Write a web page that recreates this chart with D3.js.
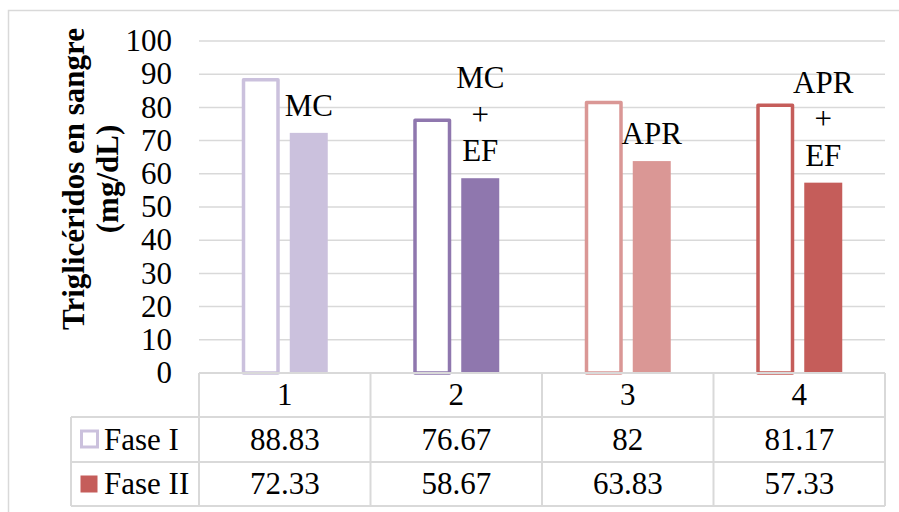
<!DOCTYPE html>
<html><head><meta charset="utf-8">
<script src="https://cdn.jsdelivr.net/npm/d3@7"></script>
<style>
html,body{margin:0;padding:0;background:#fff;}
svg{display:block;}
</style></head>
<body>
<svg id="c" width="899" height="512"></svg>
<script>
const categories = ["1", "2", "3", "4"];
const seriesNames = ["Fase I", "Fase II"];
const faseI = [88.83, 76.67, 82, 81.17];
const faseII = [72.33, 58.67, 63.83, 57.33];
const tableI = ["88.83", "76.67", "82", "81.17"];
const tableII = ["72.33", "58.67", "63.83", "57.33"];
const pointLabels = [["MC"], ["MC", "+", "EF"], ["APR"], ["APR", "+", "EF"]];
const yTicks = [0, 10, 20, 30, 40, 50, 60, 70, 80, 90, 100];
const pointColors = ["#CBC1DD", "#8F77AE", "#DA9795", "#C55D5A"];
const titleLines = ["Triglicéridos en sangre", "(mg/dL)"];

const svg = d3.select("#c");
const FS = 31;
const grid = "#D9D9D9";
const FF = "Liberation Serif";

// outer border
svg.append("rect").attr("x", 8.5).attr("y", 10.5).attr("width", 905).attr("height", 510)
  .attr("fill", "none").attr("stroke", grid).attr("stroke-width", 1.5);

const plotL = 199, plotR = 885, plotT = 41, plotB = 373;
const y = d3.scaleLinear().domain([0, 100]).range([plotB, plotT]);
const x = d3.scaleBand().domain(categories).range([plotL, plotR]);
const sub = d3.scaleBand().domain(seriesNames).range([0, 86]).paddingInner(10 / 48);

// gridlines
svg.append("g").selectAll("line").data(yTicks.filter(d => d > 0)).join("line")
  .attr("x1", plotL).attr("x2", plotR)
  .attr("y1", d => y(d)).attr("y2", d => y(d))
  .attr("stroke", grid).attr("stroke-width", 1.5);

// y tick labels
svg.append("g").selectAll("text").data(yTicks).join("text")
  .style("font-family", FF)
  .attr("x", 172).attr("y", d => y(d)).attr("dy", "0.33em")
  .attr("text-anchor", "end").attr("font-size", FS).text(d => d);

// axis title
const tg = svg.append("g").attr("transform", "translate(0,179) rotate(-90)");
tg.selectAll("text").data(titleLines).join("text")
  .style("font-family", FF)
  .attr("x", 0).attr("y", (d, i) => 84 + i * 34)
  .attr("text-anchor", "middle").attr("font-size", 31).attr("font-weight", "bold")
  .text(d => d);

const bx = (c, s) => x(c) + x.bandwidth() / 2 - 43 + sub(s);

// Fase I outline bars
svg.append("g").selectAll("rect").data(categories).join("rect")
  .attr("x", c => bx(c, "Fase I") + 1.75)
  .attr("width", sub.bandwidth() - 3.5)
  .attr("y", (c, i) => y(faseI[i]) + 1.75)
  .attr("height", (c, i) => plotB - y(faseI[i]) - 1.75)
  .attr("fill", "#fff")
  .attr("stroke", (c, i) => pointColors[i]).attr("stroke-width", 3.5)
  .attr("stroke-linejoin", "round");

// Fase II filled bars
svg.append("g").selectAll("rect").data(categories).join("rect")
  .attr("x", c => bx(c, "Fase II"))
  .attr("width", sub.bandwidth())
  .attr("y", (c, i) => y(faseII[i]))
  .attr("height", (c, i) => plotB - y(faseII[i]))
  .attr("fill", (c, i) => pointColors[i]);

// data labels on Fase II
categories.forEach((c, i) => {
  const cx = bx(c, "Fase II") + sub.bandwidth() / 2;
  const lines = pointLabels[i];
  const lastBase = y(faseII[i]) - 17;
  lines.forEach((t, j) => {
    svg.append("text").style("font-family", FF)
      .attr("x", cx).attr("y", lastBase - (lines.length - 1 - j) * 36.5)
      .attr("text-anchor", "middle").attr("font-size", FS).text(t);
  });
});

// data table
const rowT = [373, 417, 462, 506];
const colX = [plotL].concat(categories.map(c => x(c) + x.bandwidth()));
const tl = svg.append("g").attr("stroke", grid).attr("stroke-width", 2);
tl.append("line").attr("x1", plotL).attr("x2", plotR).attr("y1", rowT[0]).attr("y2", rowT[0]);
[rowT[1], rowT[2], rowT[3]].forEach(yy =>
  tl.append("line").attr("x1", 71).attr("x2", plotR).attr("y1", yy).attr("y2", yy));
colX.forEach(xx => tl.append("line").attr("x1", xx).attr("x2", xx).attr("y1", rowT[0]).attr("y2", rowT[3]));
tl.append("line").attr("x1", 71).attr("x2", 71).attr("y1", rowT[1]).attr("y2", rowT[3]);

// category row
svg.append("g").selectAll("text").data(categories).join("text")
  .style("font-family", FF)
  .attr("x", c => x(c) + x.bandwidth() / 2).attr("y", (rowT[0] + rowT[1]) / 2).attr("dy", "0.33em")
  .attr("text-anchor", "middle").attr("font-size", FS).text(c => c);
[tableI, tableII].forEach((arr, r) => {
  svg.append("g").selectAll("text").data(arr).join("text")
    .style("font-family", FF)
    .attr("x", (d, i) => x(categories[i]) + x.bandwidth() / 2)
    .attr("y", (rowT[r + 1] + rowT[r + 2]) / 2).attr("dy", "0.33em")
    .attr("text-anchor", "middle").attr("font-size", FS).text(d => d);
});

// legend cells
seriesNames.forEach((s, r) => {
  const cy = (rowT[r + 1] + rowT[r + 2]) / 2;
  if (r === 0) {
    svg.append("rect").attr("x", 81.5).attr("y", cy - 8.5).attr("width", 16).attr("height", 16)
      .attr("fill", "#fff").attr("stroke", pointColors[0]).attr("stroke-width", 3);
  } else {
    svg.append("rect").attr("x", 80.5).attr("y", cy - 8.5).attr("width", 17).attr("height", 17)
      .attr("fill", pointColors[3]);
  }
  svg.append("text").style("font-family", FF).attr("x", 104).attr("y", cy).attr("dy", "0.33em")
    .attr("font-size", FS).text(s);
});
</script>
</body></html>
